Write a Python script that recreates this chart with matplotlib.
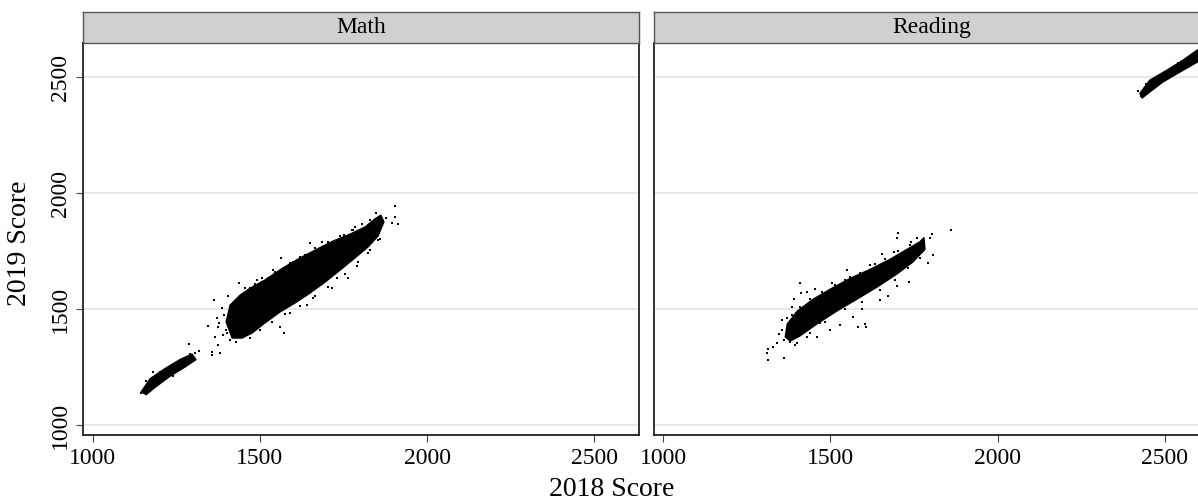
import matplotlib
matplotlib.use("Agg")
import matplotlib.pyplot as plt
import numpy as np

plt.rcParams['font.family'] = ['Liberation Serif', 'DejaVu Serif']

# panels
panels = ["Math", "Reading"]
ticks = [1000, 1500, 2000, 2500]

# dense cores of the point clouds (outlines, 2018 vs 2019 score)
math_core_x = [1417, 1399, 1411, 1441, 1471, 1515, 1569, 1620, 1671, 1719,
               1770, 1814, 1844, 1862, 1871, 1853, 1823, 1784, 1740, 1695,
               1650, 1605, 1560, 1515, 1477, 1447]
math_core_y = [1375, 1444, 1517, 1560, 1590, 1625, 1677, 1720, 1758, 1793,
               1823, 1853, 1888, 1905, 1875, 1814, 1767, 1720, 1668, 1616,
               1569, 1526, 1487, 1440, 1397, 1375]
math_low_x = [1145, 1172, 1217, 1262, 1297, 1309, 1276, 1232, 1187, 1160]
math_low_y = [1143, 1200, 1244, 1283, 1306, 1282, 1250, 1211, 1163, 1131]

read_core_x = [1371, 1400, 1448, 1499, 1559, 1619, 1678, 1729, 1768, 1780,
               1783, 1747, 1699, 1640, 1580, 1520, 1460, 1409, 1380, 1365]
read_core_y = [1435, 1490, 1542, 1585, 1632, 1671, 1714, 1757, 1790, 1808,
               1757, 1703, 1651, 1595, 1543, 1492, 1436, 1384, 1362, 1380]
read_high_x = [2426, 2455, 2506, 2554, 2596, 2650, 2650, 2596, 2545, 2494, 2455, 2432]
read_high_y = [2430, 2486, 2529, 2572, 2615, 2650, 2594, 2563, 2521, 2478, 2435, 2409]

# loose points around the cores
math_pts_x = [1904, 1877, 1895, 1904, 1913, 1859, 1823, 1790, 1764, 1731,
              1716, 1659, 1641, 1590, 1572, 1560, 1563, 1650, 1686, 1752,
              1784, 1820, 1847, 1438, 1405, 1363, 1387, 1345, 1372, 1375,
              1366, 1375, 1357, 1381, 1288, 1318, 1306, 1420, 1435, 1450,
              1402, 1417, 1480, 1492, 1525, 1540, 1599, 1620, 1357, 1378,
              1390, 1145, 1151, 1180, 1212, 1262, 1291, 1840, 1805, 1760,
              1700, 1610, 1530, 1455, 1620, 1700, 1780, 1470, 1500, 1550,
              1456, 1486, 1507, 1545, 1590, 1635, 1665, 1704, 1740, 1776,
              1806, 1829, 1471, 1501, 1536, 1575, 1620, 1665, 1704, 1755,
              1793, 1829, 1853, 1393, 1399, 1411, 1429, 1160, 1200, 1245,
              1285, 1190, 1240]
math_pts_y = [1944, 1892, 1870, 1896, 1866, 1801, 1741, 1685, 1634, 1634,
              1590, 1547, 1517, 1483, 1397, 1422, 1720, 1784, 1789, 1819,
              1853, 1853, 1913, 1612, 1556, 1539, 1504, 1427, 1461, 1422,
              1379, 1345, 1315, 1311, 1349, 1319, 1311, 1388, 1384, 1379,
              1397, 1422, 1422, 1625, 1634, 1668, 1702, 1724, 1302, 1440,
              1388, 1138, 1151, 1228, 1203, 1275, 1308, 1880, 1775, 1720,
              1640, 1580, 1470, 1400, 1690, 1760, 1840, 1590, 1600, 1650,
              1590, 1608, 1634, 1659, 1698, 1733, 1763, 1789, 1814, 1840,
              1866, 1883, 1375, 1410, 1444, 1478, 1513, 1556, 1595, 1651,
              1702, 1754, 1797, 1474, 1410, 1366, 1358, 1190, 1230, 1265,
              1295, 1170, 1212]

read_pts_x = [1861, 1804, 1798, 1807, 1792, 1735, 1702, 1699, 1655, 1550,
              1505, 1454, 1409, 1392, 1430, 1412, 1356, 1347, 1371, 1362,
              1314, 1311, 1314, 1329, 1341, 1583, 1604, 1607, 1568, 1529,
              1595, 1672, 1699, 1649, 1499, 1460, 1430, 1400, 1380, 1386,
              1371, 1740, 1690, 1620, 1560, 1480, 1450, 1630, 1560, 1470,
              1386, 1409, 1439, 1475, 1514, 1544, 1589, 1634, 1663, 1702,
              1738, 1759, 1394, 1439, 1484, 1544, 1595, 1649, 1693, 1732,
              1768, 1356, 1362,
              2420, 2428, 2445, 2470, 2490, 2520, 2540, 2580]
read_pts_y = [1840, 1823, 1806, 1733, 1698, 1616, 1827, 1806, 1737, 1668,
              1612, 1586, 1612, 1543, 1573, 1569, 1453, 1392, 1379, 1289,
              1328, 1311, 1280, 1336, 1354, 1422, 1435, 1422, 1466, 1431,
              1500, 1556, 1599, 1539, 1410, 1379, 1379, 1354, 1358, 1509,
              1461, 1790, 1745, 1690, 1640, 1560, 1530, 1600, 1530, 1440,
              1475, 1510, 1545, 1575, 1605, 1627, 1657, 1692, 1717, 1748,
              1778, 1804, 1343, 1395, 1446, 1502, 1532, 1580, 1627, 1675,
              1722, 1410, 1366,
              2440, 2418, 2470, 2465, 2505, 2510, 2560, 2590]

fig = plt.figure(figsize=(11.98, 5.04), dpi=100)
ax1 = fig.add_axes([0.0693, 0.1369, 0.4641, 0.7784])
ax2 = fig.add_axes([0.5455, 0.1369, 0.4641, 0.7784])
st1 = fig.add_axes([0.0693, 0.9153, 0.4641, 0.0609])
st2 = fig.add_axes([0.5455, 0.9153, 0.4641, 0.0609])

ax1.fill(math_core_x, math_core_y, color='black', lw=1.0)
ax1.fill(math_low_x, math_low_y, color='black', lw=1.0)
ax1.scatter(math_pts_x, math_pts_y, s=3.5, marker='s', c='black', linewidths=0)
ax2.fill(read_core_x, read_core_y, color='black', lw=1.0)
ax2.fill(read_high_x, read_high_y, color='black', lw=1.0)
ax2.scatter(read_pts_x, read_pts_y, s=3.5, marker='s', c='black', linewidths=0)

for ax in (ax1, ax2):
    ax.set_xlim(971, 2634)
    ax.set_ylim(957, 2648)
    ax.set_xticks(ticks)
    ax.set_yticks(ticks)
    ax.grid(axis='y', color='#e3e3e3', lw=1.2)
    ax.set_axisbelow(True)
    for s in ax.spines.values():
        s.set_color('#222222')
        s.set_linewidth(1.3)
    ax.tick_params(axis='both', length=5, width=0.8, color='#444444',
                   labelsize=17, pad=4)
    for lab in ax.get_yticklabels():
        lab.set_rotation(90)
        lab.set_va('center')

ax2.tick_params(axis='y', left=False, labelleft=False)

for st, name in zip((st1, st2), panels):
    st.set_facecolor('#d0d0d0')
    st.set_xticks([])
    st.set_yticks([])
    for s in st.spines.values():
        s.set_color('#555555')
        s.set_linewidth(1.0)
    st.text(0.5, 0.5, name, ha='center', va='center', fontsize=17,
            transform=st.transAxes)

fig.text(0.511, 0.028, "2018 Score", ha='center', va='center', fontsize=20)
fig.text(0.016, 0.518, "2019 Score", ha='center', va='center', fontsize=20,
         rotation=90)

fig.savefig("out.png", dpi=100)
